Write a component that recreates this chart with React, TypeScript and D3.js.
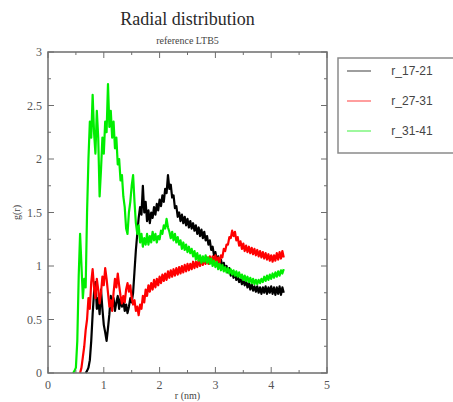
import React from "react";
import * as d3 from "d3";

const W = 453;
const H = 402;

const title = "Radial distribution";
const subtitle = "reference LTB5";
const xLabel = "r (nm)";
const yLabel = "g(r)";

const seriesNames = ["r_17-21", "r_27-31", "r_31-41"];
const seriesColors = ["#000000", "#ff0000", "#00ee00"];
const rStep = 0.025;

// r_17-21 (black), starts at r = 0.675
const blackStart = 0.675;
const blackValues = [
  0, 0.02, 0.05, 0.12, 0.3, 0.55, 0.75, 0.85, 0.6, 0.7,
  0.55, 0.78, 0.6, 0.45, 0.38, 0.3, 0.42, 0.55, 0.72, 0.62,
  0.7, 0.58, 0.66, 0.72, 0.6, 0.7, 0.62, 0.68, 0.58, 0.64,
  0.56, 0.62, 0.7, 0.66, 0.75, 0.95, 1.15, 1.3, 1.45, 1.55,
  1.48, 1.75, 1.5, 1.6, 1.42, 1.52, 1.4, 1.5, 1.45, 1.55,
  1.48, 1.58, 1.52, 1.62, 1.56, 1.66, 1.6, 1.72, 1.68, 1.85,
  1.72, 1.76, 1.64, 1.66, 1.54, 1.56, 1.46, 1.5, 1.42, 1.48,
  1.4, 1.46, 1.38, 1.44, 1.36, 1.42, 1.35, 1.4, 1.33, 1.38,
  1.3, 1.36, 1.28, 1.34, 1.26, 1.32, 1.24, 1.28, 1.2, 1.24,
  1.15, 1.18, 1.1, 1.13, 1.06, 1.09, 1.02, 1.06, 0.99, 1.03,
  0.97, 1.0, 0.94, 0.98, 0.91, 0.95, 0.89, 0.93, 0.87, 0.9,
  0.85, 0.88, 0.83, 0.87, 0.82, 0.86, 0.8, 0.84, 0.78, 0.83,
  0.77, 0.81, 0.76, 0.81, 0.75, 0.8, 0.74, 0.8, 0.75, 0.81,
  0.74, 0.8, 0.75, 0.81, 0.74, 0.8, 0.73, 0.8, 0.74, 0.81,
  0.73, 0.8, 0.75,
];

// r_27-31 (red), starts at r = 0.575
const redStart = 0.575;
const redValues = [
  0, 0.05, 0.15, 0.25, 0.4, 0.5, 0.7, 0.6, 0.85, 0.97,
  0.8, 0.7, 0.88, 0.78, 0.65, 0.75, 0.9, 0.82, 0.98, 0.88,
  0.75, 0.62, 0.68, 0.58, 0.75, 0.88, 0.8, 0.93, 0.82, 0.72,
  0.65, 0.72, 0.66, 0.78, 0.84, 0.76, 0.82, 0.7, 0.64, 0.68,
  0.58, 0.62, 0.54, 0.64, 0.6, 0.72, 0.66, 0.78, 0.72, 0.82,
  0.76, 0.84, 0.78, 0.87, 0.8, 0.88, 0.82, 0.9, 0.84, 0.92,
  0.86, 0.93, 0.87, 0.95, 0.89, 0.96, 0.9, 0.97, 0.91, 0.98,
  0.92, 0.99, 0.93, 1.0, 0.94, 1.01, 0.95, 1.02, 0.96, 1.02,
  0.97, 1.04, 0.98, 1.04, 0.99, 1.06, 1.0, 1.06, 1.01, 1.07,
  1.02, 1.08, 1.02, 1.09, 1.03, 1.09, 1.04, 1.1, 1.03, 1.08,
  1.03, 1.1, 1.08, 1.16, 1.14, 1.2, 1.2, 1.27, 1.26, 1.33,
  1.28, 1.32, 1.24, 1.27, 1.19, 1.23, 1.16, 1.21, 1.14, 1.19,
  1.13, 1.18, 1.12, 1.17, 1.11, 1.16, 1.1, 1.15, 1.09, 1.14,
  1.08, 1.13, 1.07, 1.12, 1.06, 1.11, 1.05, 1.1, 1.04, 1.1,
  1.05, 1.12, 1.06, 1.13, 1.07, 1.14, 1.08,
];

// r_31-41 (green), starts at r = 0.45
const greenStart = 0.45;
const greenValues = [
  0, 0.02, 0.05, 0.3, 0.9, 1.3, 1.0, 0.7, 0.88, 0.8,
  1.5, 2.0, 2.35, 2.2, 2.6, 2.25, 2.05, 2.45, 2.2, 1.65,
  1.9, 2.2, 2.05, 2.35, 2.25, 2.7, 2.3, 2.45, 2.2, 2.35,
  2.1, 2.2, 1.95, 2.0, 1.8, 1.85, 1.65, 1.55, 1.35, 1.3,
  1.5, 1.6, 1.75, 1.85, 1.6, 1.4, 1.3, 1.38, 1.22, 1.3,
  1.18, 1.26, 1.2, 1.3, 1.2, 1.28, 1.22, 1.32, 1.24, 1.3,
  1.22, 1.28, 1.25, 1.33, 1.3, 1.38, 1.35, 1.44, 1.36, 1.32,
  1.26, 1.32, 1.24, 1.3, 1.22, 1.27, 1.2, 1.24, 1.16, 1.22,
  1.15, 1.2, 1.13, 1.18, 1.12, 1.16, 1.09, 1.14, 1.06, 1.12,
  1.05, 1.1, 1.03, 1.09, 1.04, 1.1, 1.03, 1.08, 1.02, 1.07,
  1.0, 1.05, 0.99, 1.04, 0.97, 1.02, 0.96, 1.01, 0.95, 0.99,
  0.94, 0.98, 0.93, 0.97, 0.92, 0.96, 0.91, 0.95, 0.9, 0.94,
  0.89, 0.92, 0.87, 0.91, 0.86, 0.9, 0.85, 0.89, 0.84, 0.88,
  0.83, 0.87, 0.83, 0.87, 0.84, 0.88, 0.85, 0.9, 0.86, 0.91,
  0.87, 0.92, 0.88, 0.93, 0.89, 0.94, 0.9, 0.95, 0.91, 0.96,
  0.93, 0.97,
];

const xMajorTicks = [0, 1, 2, 3, 4, 5];
const xMinorTicks = [0.5, 1.5, 2.5, 3.5, 4.5];
const yMajorTicks = [0, 0.5, 1, 1.5, 2, 2.5, 3];
const yMinorTicks = [0.25, 0.75, 1.25, 1.75, 2.25, 2.75];

const plot = { left: 48, right: 327, top: 52, bottom: 373 };

export default function App() {
  const x = d3.scaleLinear().domain([0, 5]).range([plot.left, plot.right]);
  const y = d3.scaleLinear().domain([0, 3]).range([plot.bottom, plot.top]);

  const toPoints = (start: number, vals: number[]) =>
    vals.map((v, i) => [start + i * rStep, v] as [number, number]);

  const series = [
    toPoints(blackStart, blackValues),
    toPoints(redStart, redValues),
    toPoints(greenStart, greenValues),
  ];

  const line = d3
    .line<[number, number]>()
    .x((d) => x(d[0]))
    .y((d) => y(d[1]));

  const axisColor = "#6e6e6e";
  const labelColor = "#555";
  const serif = "'Liberation Serif', 'Times New Roman', serif";
  const sans = "'Liberation Sans', Arial, sans-serif";
  const majorLen = 6;
  const minorLen = 3;

  const legend = { x: 338, y: 58, w: 118, h: 95 };

  return (
    <svg
      width={W}
      height={H}
      style={{ position: "absolute", left: 0, top: 0, background: "#fff" }}
    >
      <rect x={0} y={0} width={W} height={H} fill="#fff" />
      <text
        x={187.5}
        y={25}
        textAnchor="middle"
        fontFamily={serif}
        fontSize={18}
        fill="#2a2a2a"
      >
        {title}
      </text>
      <text
        x={187.5}
        y={44}
        textAnchor="middle"
        fontFamily={serif}
        fontSize={10}
        fill="#444"
      >
        {subtitle}
      </text>

      <g>
        {series.map((pts, i) => (
          <path
            key={i}
            d={line(pts) || ""}
            fill="none"
            stroke={seriesColors[i]}
            strokeWidth={2.2}
            strokeLinejoin="round"
          />
        ))}
      </g>

      {/* frame */}
      <rect
        x={plot.left}
        y={plot.top}
        width={plot.right - plot.left}
        height={plot.bottom - plot.top}
        fill="none"
        stroke={axisColor}
        strokeWidth={1.5}
      />

      {/* x ticks */}
      {xMajorTicks.map((t) => (
        <g key={"xm" + t}>
          <line x1={x(t)} x2={x(t)} y1={plot.bottom} y2={plot.bottom - majorLen} stroke={axisColor} />
          <line x1={x(t)} x2={x(t)} y1={plot.top} y2={plot.top + majorLen} stroke={axisColor} />
          <text
            x={x(t)}
            y={plot.bottom + 16}
            textAnchor="middle"
            fontFamily={serif}
            fontSize={12}
            fill={labelColor}
          >
            {t}
          </text>
        </g>
      ))}
      {xMinorTicks.map((t) => (
        <g key={"xn" + t}>
          <line x1={x(t)} x2={x(t)} y1={plot.bottom} y2={plot.bottom - minorLen} stroke={axisColor} />
          <line x1={x(t)} x2={x(t)} y1={plot.top} y2={plot.top + minorLen} stroke={axisColor} />
        </g>
      ))}

      {/* y ticks */}
      {yMajorTicks.map((t) => (
        <g key={"ym" + t}>
          <line x1={plot.left} x2={plot.left + majorLen} y1={y(t)} y2={y(t)} stroke={axisColor} />
          <line x1={plot.right} x2={plot.right - majorLen} y1={y(t)} y2={y(t)} stroke={axisColor} />
          <text
            x={plot.left - 6}
            y={y(t) + 4}
            textAnchor="end"
            fontFamily={serif}
            fontSize={12}
            fill={labelColor}
          >
            {t}
          </text>
        </g>
      ))}
      {yMinorTicks.map((t) => (
        <g key={"yn" + t}>
          <line x1={plot.left} x2={plot.left + minorLen} y1={y(t)} y2={y(t)} stroke={axisColor} />
          <line x1={plot.right} x2={plot.right - minorLen} y1={y(t)} y2={y(t)} stroke={axisColor} />
        </g>
      ))}

      <text
        x={(plot.left + plot.right) / 2}
        y={399}
        textAnchor="middle"
        fontFamily={serif}
        fontSize={10}
        fill="#444"
      >
        {xLabel}
      </text>
      <text
        transform={`translate(20, ${(plot.top + plot.bottom) / 2}) rotate(-90)`}
        textAnchor="middle"
        fontFamily={serif}
        fontSize={10}
        fill="#444"
      >
        {yLabel}
      </text>

      {/* legend */}
      <rect
        x={legend.x}
        y={legend.y}
        width={legend.w}
        height={legend.h}
        fill="#fff"
        stroke="#8a8a8a"
        strokeWidth={1.5}
      />
      {seriesNames.map((name, i) => {
        const ly = legend.y + 13 + i * 30;
        return (
          <g key={name}>
            <line
              x1={legend.x + 9}
              x2={legend.x + 33}
              y1={ly}
              y2={ly}
              stroke={seriesColors[i]}
              strokeWidth={1.5}
              opacity={0.5}
            />
            <text
              x={legend.x + 74}
              y={ly + 4}
              textAnchor="middle"
              fontFamily={sans}
              fontSize={12}
              fill="#444"
            >
              {name}
            </text>
          </g>
        );
      })}
    </svg>
  );
}
